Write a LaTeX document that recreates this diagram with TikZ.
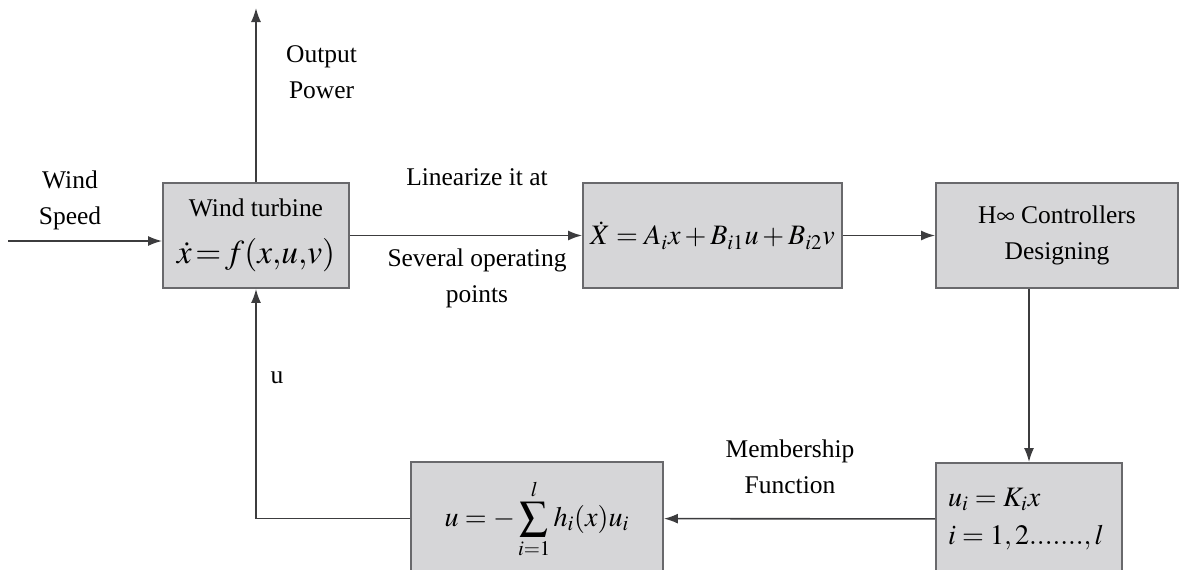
\documentclass[tikz,border=0pt]{standalone}
\usepackage{amsmath}
\usepackage{mathptmx}
\usepackage{fontspec}
\setmainfont{Liberation Serif}
\newfontfamily\tnr{Liberation Serif}
\usepackage{tikz}
\usetikzlibrary{positioning,arrows.meta,calc}
\definecolor{boxgray}{RGB}{214,214,216}
\definecolor{edgegray}{RGB}{105,105,108}
\definecolor{linegray}{RGB}{60,60,62}
\tikzset{
  >={Latex[length=2.8mm,width=2mm]},
  blk/.style={draw=edgegray, fill=boxgray, line width=1.1pt, align=center,
              minimum width=#1, minimum height=21mm, inner sep=4pt,
              font=\tnr\fontsize{14.5}{20.5}\selectfont},
  blk/.default=37.2mm,
  flow/.style={->, line width=0.9pt, draw=linegray},
  lab/.style={align=center, font=\tnr\fontsize{14.5}{20.5}\selectfont},
  eqn/.style={font=\tnr\fontsize{16}{22}\selectfont}
}
\begin{document}
\begin{tikzpicture}[x=0.02cm, y=-0.02cm]
\useasboundingbox (0,0) rectangle (1179,569);
% blocks
\node[blk] (turb) at (256,235.5) {Wind turbine\\[6pt] {\fontsize{19}{22}\selectfont $\dot{x}\!=\!f(x{,}u{,}v)$}};
\node[blk=50.2mm, eqn] (lin) at (712.5,235.5) {$\dot{X}=A_i x+B_{i1}u+B_{i2}v$};
\node[blk=48.4mm] (hinf) at (1057,235.5) {H$\infty$ Controllers\\ Designing};
\node[blk, minimum height=22.4mm, text width=32.4mm, align=left, font=\tnr\fontsize{16}{20}\selectfont] (gain) at (1029,519) {$u_i=K_i x$\\[2pt] $i=1,2.......,l$};
\node[blk=50.4mm, minimum height=22.6mm, eqn] (sum) at (537,518.5) {$\displaystyle u=-\sum_{i=1}^{l}h_i(x)u_i$};
% labels
\node[lab] (wind) at (70,200) {Wind\\ Speed};
\node[lab, anchor=west] (power) at (280,72) {Output\\ Power};
\node[lab] (lintop) at (477,177) {Linearize it at};
\node[lab] (linbot) at (477,278) {Several operating\\ points};
\node[lab] (ulab) at (277,378) {u};
\node[lab] (memb) at (790,467) {Membership\\ Function};
% connectors
\coordinate (wsin) at (8,241);
\coordinate (pout) at (256,8);
\draw[flow] (wsin) -- (wsin -| turb.west);
\draw[flow] (turb.north) -- (pout);
\draw[flow] (turb) -- (lin);
\draw[flow] (lin) -- (hinf);
\draw[flow] (hinf.south -| gain.north) -- (gain.north);
\draw[flow] (gain) -- (sum);
\draw[flow] (sum.west) -| (turb.south);
\end{tikzpicture}
\end{document}
